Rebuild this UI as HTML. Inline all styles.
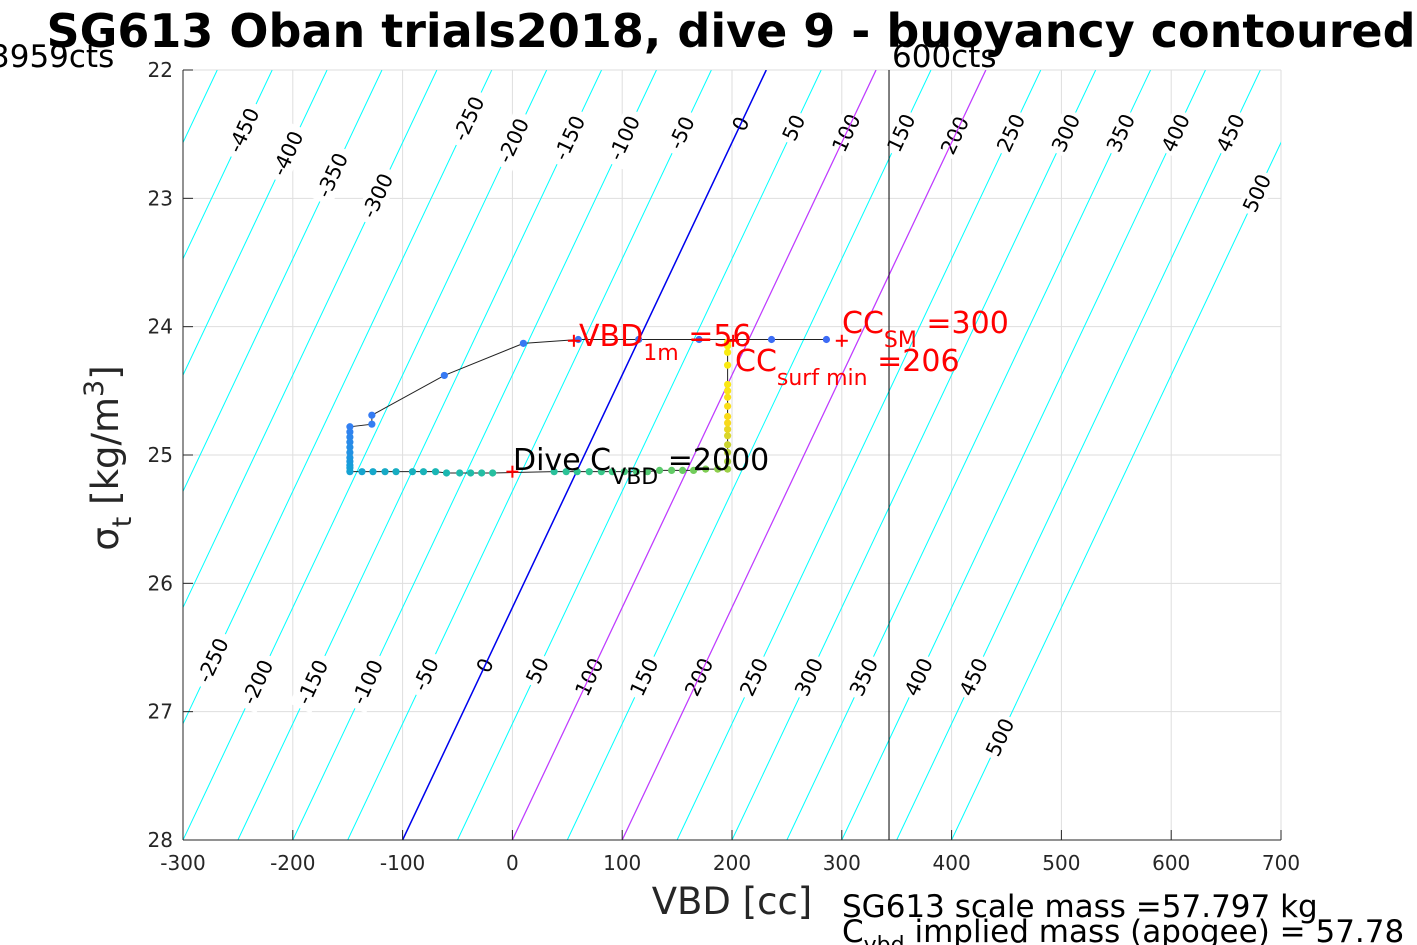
<!DOCTYPE html>
<html><head><meta charset="utf-8"><style>
html,body{margin:0;padding:0;background:#fff;overflow:hidden}
svg{display:block;font-family:"DejaVu Sans","Liberation Sans",sans-serif}
</style></head><body>
<svg id="chart" width="1417" height="945" viewBox="0 0 1417 945">
<g id="grid"></g>
<g id="contours"></g>
<g id="labelsG"></g>
<g id="special"></g>
<g id="dataG"></g>
<g id="axes"></g>
<text x="731" y="47" text-anchor="middle" font-size="46" font-weight="bold" fill="#000">SG613 Oban trials2018, dive 9 - buoyancy contoured</text>
<text x="-10" y="67" font-size="31" fill="#000">3959cts</text>
<text x="892" y="67" font-size="31" fill="#000">600cts</text>
<text x="732" y="914" text-anchor="middle" font-size="37" fill="#262626">VBD [cc]</text>
<text transform="translate(118,458) rotate(-90)" text-anchor="middle" font-size="37" fill="#262626">σ<tspan font-size="27" dy="13">t</tspan><tspan dy="-13"> [kg/m</tspan><tspan font-size="27" dy="-15">3</tspan><tspan dy="15">]</tspan></text>
<text x="842" y="917" font-size="31" fill="#000">SG613 scale mass =57.797 kg</text>
<text x="842" y="942" font-size="31" fill="#000">C<tspan font-size="22" dy="10">vbd</tspan><tspan dy="-10"> implied mass (apogee) = 57.78</tspan></text>
<text x="579" y="346" font-size="30" fill="#ff0000">VBD<tspan font-size="22" dy="14">1m</tspan><tspan dy="-14"> =56</tspan></text>
<text x="842" y="333" font-size="30" fill="#ff0000">CC<tspan font-size="22" dy="14">SM</tspan><tspan dy="-14"> =300</tspan></text>
<text x="735" y="371" font-size="30" fill="#ff0000">CC<tspan font-size="22" dy="14">surf min</tspan><tspan dy="-14"> =206</tspan></text>
<text x="513" y="470" font-size="30" fill="#000">Dive C<tspan font-size="22" dy="14">VBD</tspan><tspan dy="-14"> =2000</tspan></text>
</svg>
<script>
const xTicks=[-300,-200,-100,0,100,200,300,400,500,600,700];
const yTicks=[22,23,24,25,26,27,28];
const contourB=[-500,-450,-400,-350,-300,-250,-200,-150,-100,-50,0,50,100,150,200,250,300,350,400,450,500];
const topLabelB=[-450,-400,-350,-300,-250,-200,-150,-100,-50,0,50,100,150,200,250,300,350,400,450,500];
const topLabelSig=[22.47,22.65,22.82,22.98,22.38,22.55,22.53,22.53,22.49,22.42,22.45,22.49,22.49,22.51,22.49,22.49,22.49,22.49,22.49,22.96];
const botLabelB=[-250,-200,-150,-100,-50,0,50,100,150,200,250,300,350,400,450,500];
const botLabelSig=[26.60,26.77,26.77,26.77,26.71,26.64,26.68,26.73,26.73,26.73,26.73,26.73,26.73,26.73,26.73,27.20];
const magentaB=[100,200];
const trackVBD=[286,236,170,115,60,10,-62,-128,-128,-148,-148,-148,-148,-148,-148,-148,-148,-148,-148,-148,-137,-127,-116,-106,-91,-81,-70,-60,-48,-38,-28,-18,38,49,59,70,81,91,102,113,123,134,145,155,165,176,187,196,196,196,196,196,196,196,196,196,196,196,196,196,196,196,196];
const trackSig=[24.10,24.10,24.10,24.10,24.10,24.13,24.38,24.69,24.76,24.78,24.82,24.86,24.90,24.94,24.98,25.02,25.05,25.08,25.10,25.13,25.13,25.13,25.13,25.13,25.13,25.13,25.13,25.14,25.14,25.14,25.14,25.14,25.13,25.13,25.13,25.13,25.13,25.13,25.13,25.13,25.13,25.12,25.12,25.12,25.12,25.11,25.11,25.11,25.05,24.98,24.92,24.85,24.80,24.75,24.70,24.62,24.55,24.50,24.45,24.30,24.20,24.15,24.12];
const markVBD=[56,300,0,201];
const markSig=[24.11,24.11,25.13,24.11];
const X0=183,X1=1281,Y0=70,Y1=840;
const xs=v=>X0+(v+300)/1000*(X1-X0);
const ys=s=>Y0+(s-22)/6*(Y1-Y0);
const vbdOf=(b,s)=>-100+b+55.2*(28-s);
const NS='http://www.w3.org/2000/svg';
function mk(tag,parent,attrs){const e=document.createElementNS(NS,tag);for(const k in attrs)e.setAttribute(k,attrs[k]);parent.appendChild(e);return e;}
const grid=document.getElementById('grid'),cont=document.getElementById('contours'),lab=document.getElementById('labelsG'),spec=document.getElementById('special'),dg=document.getElementById('dataG'),ax=document.getElementById('axes');
mk('clipPath',document.getElementById('chart'),{id:'clip'});
mk('rect',document.getElementById('clip'),{x:X0,y:Y0,width:X1-X0,height:Y1-Y0});
cont.setAttribute('clip-path','url(#clip)');spec.setAttribute('clip-path','url(#clip)');
xTicks.forEach(v=>{const l=mk('line',grid,{x1:xs(v),x2:xs(v),y1:Y0,y2:Y1,stroke:'#dedede','stroke-width':1});
});
yTicks.forEach(s=>{const l=mk('line',grid,{x1:X0,x2:X1,y1:ys(s),y2:ys(s),stroke:'#dedede','stroke-width':1});
});
function cline(b,parent,color,w){return mk('line',parent,{x1:xs(vbdOf(b,22)),y1:ys(22),x2:xs(vbdOf(b,28)),y2:ys(28),stroke:color,'stroke-width':w});}
contourB.forEach(b=>{const l=cline(b,cont,'#00ffff',1);
});
const ang=-Math.atan2(770,362*1)*180/Math.PI;
function addLabel(b,s){const x=xs(vbdOf(b,s)),y=ys(s);
const g=mk('g',lab,{transform:`translate(${x},${y}) rotate(${ang})`});


const w=String(b).length*13+6;
mk('rect',g,{x:-w/2,y:-12,width:w,height:24,fill:'#fff'});
const t=mk('text',g,{x:0,y:7,'text-anchor':'middle','font-size':20.5,fill:'#000'});t.textContent=b;}
topLabelB.forEach((b,i)=>addLabel(b,topLabelSig[i]));
botLabelB.forEach((b,i)=>addLabel(b,botLabelSig[i]));
magentaB.forEach(b=>{const l=cline(b,spec,'#cc33ff',1.2);
});
const bl=cline(0,spec,'#0000ee',1.5);


const vl=mk('line',spec,{x1:xs(343),x2:xs(343),y1:Y0,y2:Y1,stroke:'#000','stroke-width':1});


const pl=mk('polyline',dg,{points:trackVBD.map((v,i)=>xs(v)+','+ys(trackSig[i])).join(' '),fill:'none',stroke:'#222','stroke-width':1});


const cmap=[[0.24,0.42,0.96],[0.2,0.5,0.95],[0.08,0.62,0.85],[0.1,0.72,0.7],[0.2,0.78,0.55],[0.45,0.8,0.35],[0.98,0.85,0.1],[0.98,0.95,0.05]];
function col(t){const p=t*(cmap.length-1),i=Math.min(Math.floor(p),cmap.length-2),f=p-i;const c=cmap[i].map((a,k)=>Math.round(255*(a+(cmap[i+1][k]-a)*f)));return `rgb(${c})`;}
trackVBD.forEach((v,i)=>{const c=mk('circle',dg,{cx:xs(v),cy:ys(trackSig[i]),r:3.6,fill:col(i/(trackVBD.length-1))});
});
markVBD.forEach((v,i)=>{const x=xs(v),y=ys(markSig[i]);const g=mk('g',dg,{stroke:'#ff0000','stroke-width':2});

mk('line',g,{x1:x-6,x2:x+6,y1:y,y2:y});mk('line',g,{x1:x,x2:x,y1:y-6,y2:y+6});});
mk('line',ax,{x1:X0,x2:X0,y1:Y0,y2:Y1,stroke:'#262626','stroke-width':1});
mk('line',ax,{x1:X0,x2:X1,y1:Y1,y2:Y1,stroke:'#262626','stroke-width':1});
xTicks.forEach(v=>{mk('line',ax,{x1:xs(v),x2:xs(v),y1:Y1,y2:Y1-10,stroke:'#262626'});
const t=mk('text',ax,{x:xs(v),y:870,'text-anchor':'middle','font-size':20,fill:'#262626'});t.textContent=v;
});
yTicks.forEach(s=>{mk('line',ax,{x1:X0,x2:X0+10,y1:ys(s),y2:ys(s),stroke:'#262626'});
const t=mk('text',ax,{x:173,y:ys(s)+7,'text-anchor':'end','font-size':20,fill:'#262626'});t.textContent=s;
});
</script>
</body></html>
